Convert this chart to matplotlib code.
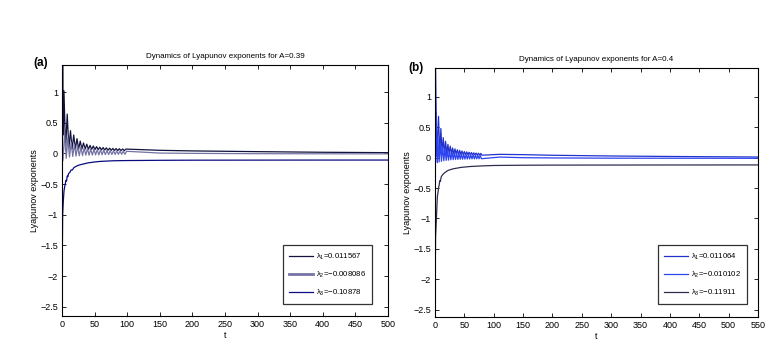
import matplotlib
matplotlib.use("Agg")
import matplotlib.pyplot as plt
import numpy as np

plt.rcParams['font.family'] = ['Liberation Sans', 'DejaVu Sans']
plt.rcParams['mathtext.fontset'] = 'custom'
plt.rcParams['mathtext.rm'] = 'Liberation Sans'
plt.rcParams['mathtext.it'] = 'Liberation Sans'

# ---------------- Panel (a): A = 0.39 ----------------
t1_a = [0, 1, 2, 3, 5.5, 8, 10.5, 13, 15.5, 18, 20.5, 23, 25.5, 28, 30.5, 33, 35.5, 38,
        40.5, 43, 45.5, 48, 50.5, 53, 55.5, 58, 60.5, 63, 65.5, 68, 70.5, 73, 75.5, 78,
        80.5, 83, 85.5, 88, 90.5, 93, 95.5, 98, 150, 200, 300, 400, 500]
l1_a = [0.0, 1.44, 0.30, 1.02, 0.05, 0.64, 0.08, 0.37, 0.07, 0.30, 0.07, 0.24, 0.07, 0.20,
        0.07, 0.17, 0.07, 0.15, 0.065, 0.13, 0.065, 0.12, 0.06, 0.11, 0.06, 0.10, 0.055,
        0.095, 0.055, 0.09, 0.05, 0.085, 0.05, 0.08, 0.048, 0.078, 0.046, 0.075, 0.045,
        0.072, 0.044, 0.07, 0.05, 0.04, 0.028, 0.018, 0.011567]

t2_a = [0, 1.5, 4, 6.5, 9, 11.5, 14, 16.5, 19, 21.5, 24, 26.5, 29, 31.5, 34, 36.5, 39,
        41.5, 44, 46.5, 49, 51.5, 54, 56.5, 59, 61.5, 64, 66.5, 69, 71.5, 74, 76.5, 79,
        81.5, 84, 86.5, 89, 91.5, 94, 96.5, 99, 150, 200, 300, 400, 500]
l2_a = [0.0, -0.12, 0.35, -0.08, 0.25, -0.06, 0.18, -0.05, 0.15, -0.045, 0.12, -0.04,
        0.10, -0.035, 0.09, -0.03, 0.08, -0.03, 0.07, -0.028, 0.065, -0.025, 0.06, -0.025,
        0.055, -0.022, 0.05, -0.02, 0.048, -0.02, 0.045, -0.018, 0.042, -0.018, 0.04,
        -0.016, 0.038, -0.015, 0.036, -0.015, 0.034, 0.005, 0.0, -0.005, -0.007, -0.008086]

t3_a = [0, 0.5, 1, 2, 3, 4, 5, 6, 7, 8, 9, 10, 12, 14, 16, 18, 20, 25, 30, 40, 50, 60,
        80, 100, 150, 200, 300, 400, 500]
l3_a = [-2.65, -1.6, -1.0, -0.78, -0.62, -0.55, -0.50, -0.44, -0.45, -0.37, -0.38, -0.33,
        -0.31, -0.27, -0.27, -0.235, -0.22, -0.195, -0.18, -0.155, -0.14, -0.13, -0.12,
        -0.117, -0.113, -0.111, -0.110, -0.109, -0.10878]

# ---------------- Panel (b): A = 0.4 ----------------
t1_b = [0, 1, 3, 6, 8, 10, 12, 14, 16, 18, 20, 22, 24, 26, 28, 30, 32, 34, 36, 38, 40,
        42, 44, 46, 48, 50, 52, 54, 56, 58, 60, 62, 64, 66, 68, 70, 72, 74, 76, 78, 80,
        110, 150, 200, 300, 400, 550]
l1_b = [0.0, 1.475, 0.02, 0.68, 0.06, 0.48, 0.07, 0.33, 0.07, 0.27, 0.065, 0.22, 0.065,
        0.19, 0.06, 0.16, 0.06, 0.145, 0.058, 0.13, 0.055, 0.12, 0.053, 0.11, 0.05, 0.10,
        0.05, 0.095, 0.048, 0.09, 0.046, 0.085, 0.045, 0.08, 0.044, 0.077, 0.043, 0.074,
        0.042, 0.071, 0.041, 0.055, 0.05, 0.04, 0.028, 0.02, 0.011064]

t2_b = [0, 2, 4, 5, 7, 9, 11, 13, 15, 17, 19, 21, 23, 25, 27, 29, 31, 33, 35, 37, 39, 41,
        43, 45, 47, 49, 51, 53, 55, 57, 59, 61, 63, 65, 67, 69, 71, 73, 75, 77, 79,
        110, 150, 200, 300, 400, 550]
l2_b = [0.0, 0.75, -0.08, 0.32, -0.07, 0.24, -0.06, 0.18, -0.05, 0.15, -0.045, 0.12,
        -0.04, 0.10, -0.035, 0.09, -0.032, 0.08, -0.03, 0.072, -0.028, 0.066, -0.026, 0.06,
        -0.025, 0.056, -0.024, 0.052, -0.022, 0.049, -0.021, 0.046, -0.02, 0.043, -0.02,
        0.041, -0.019, 0.039, -0.018, 0.037, -0.017, 0.01, 0.0, -0.004, -0.008, -0.009,
        -0.010102]

t3_b = [0, 0.5, 1, 2.3, 4, 5, 6.3, 7, 8, 9, 10.8, 13, 16, 19, 22, 30, 44, 60, 80, 101,
        150, 200, 300, 400, 550]
l3_b = [-2.62, -1.8, -1.3, -1.02, -0.64, -0.58, -0.48, -0.46, -0.38, -0.39, -0.31, -0.28,
        -0.25, -0.23, -0.21, -0.185, -0.16, -0.145, -0.135, -0.128, -0.124, -0.122,
        -0.121, -0.120, -0.11911]

labels_a = ['$\\lambda_1$=0.011567', '$\\lambda_2$=\u22120.008086', '$\\lambda_3$=\u22120.10878']
labels_b = ['$\\lambda_1$=0.011064', '$\\lambda_2$=\u22120.010102', '$\\lambda_3$=\u22120.11911']

yticks = [-2.5, -2, -1.5, -1, -0.5, 0, 0.5, 1]
ytick_labels = ['\u22122.5', '\u22122', '\u22121.5', '\u22121', '\u22120.5', '0', '0.5', '1']

fig = plt.figure(figsize=(7.83, 3.53), dpi=100)

def style(ax, xmax, xstep, ylim, title, lab, labx, laby):
    ax.set_xlim(0, xmax)
    ax.set_ylim(*ylim)
    ax.set_xticks(np.arange(0, xmax + 1, xstep))
    ax.set_yticks(yticks)
    ax.set_yticklabels(ytick_labels)
    ax.tick_params(direction='in', top=True, right=True, length=3, width=0.6,
                   labelsize=6.5, pad=3)
    for s in ax.spines.values():
        s.set_linewidth(0.8)
    ax.set_title(title, fontsize=5.8, pad=5)
    ax.set_xlabel('t', fontsize=6.5, labelpad=1)
    ax.set_ylabel('Lyapunov exponents', fontsize=6.5, labelpad=1)
    fig.text(labx, laby, lab, fontsize=8.5, fontweight='bold', ha='left', va='center')

def add_legend(ax, handles, labels, anchor):
    leg = ax.legend(handles, labels, loc='lower right', bbox_to_anchor=anchor,
                    borderaxespad=0, fontsize=5.6, frameon=True, fancybox=False,
                    edgecolor='black', handlelength=3.0, handletextpad=0.4,
                    labelspacing=1.0, borderpad=0.8)
    leg.get_frame().set_linewidth(0.9)
    return leg

# panel (a)
axa = fig.add_axes([62 / 783, (353 - 316) / 353, 326 / 783, 251 / 353])
la1, = axa.plot(t1_a, l1_a, color='#12123e', lw=0.9)
la2, = axa.plot(t2_a, l2_a, color='#7474a4', lw=0.9)
la3, = axa.plot(t3_a, l3_a, color='#0a0a80', lw=0.9)
style(axa, 500, 50, (-2.65, 1.44), 'Dynamics of Lyapunov exponents for A=0.39',
      '(a)', 33 / 783, 1 - 63 / 353)
lega = add_legend(axa, [la1, la2, la3], labels_a, (0.951, 0.048))
lega.legend_handles[1].set_linewidth(2.0)

# panel (b)
axb = fig.add_axes([435 / 783, (353 - 317) / 353, 323 / 783, 249 / 353])
lb1, = axb.plot(t1_b, l1_b, color='#2233cc', lw=0.9)
lb2, = axb.plot(t2_b, l2_b, color='#2e44f0', lw=0.9)
lb3, = axb.plot(t3_b, l3_b, color='#2e2e52', lw=0.9)
style(axb, 550, 50, (-2.62, 1.475), 'Dynamics of Lyapunov exponents for A=0.4',
      '(b)', 408 / 783, 1 - 68 / 353)
add_legend(axb, [lb1, lb2, lb3], labels_b, (0.966, 0.052))

fig.savefig('out.png', dpi=100)
